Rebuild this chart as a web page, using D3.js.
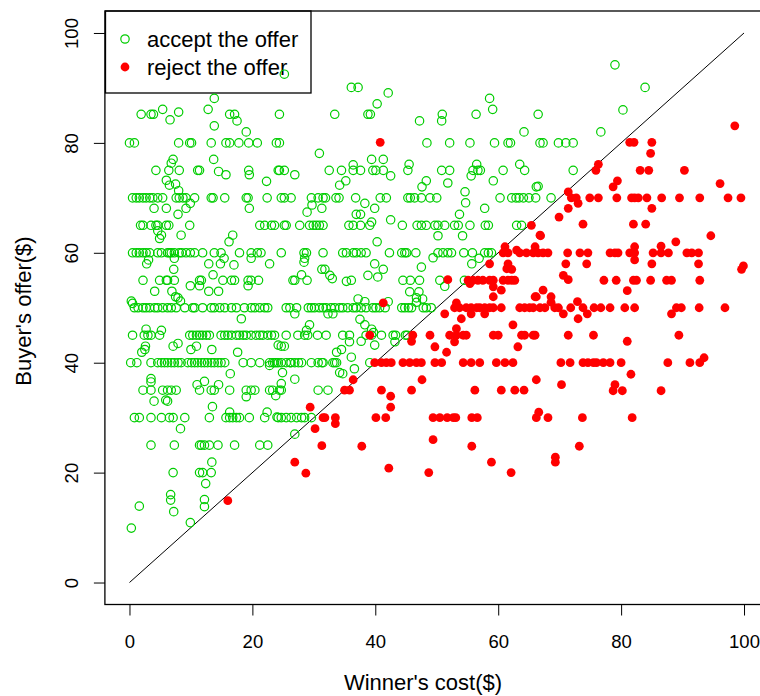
<!DOCTYPE html>
<html>
<head>
<meta charset="utf-8">
<script src="https://cdn.jsdelivr.net/npm/d3@7"></script>
<style>
  html, body { margin: 0; padding: 0; background: #fff; }
  svg { display: block; font-family: "Liberation Sans", Arial, Helvetica, sans-serif; }
</style>
</head>
<body>
<svg id="chart" width="760" height="696"></svg>
<script>
// Offers that were accepted: [winner's cost, buyer's offer]
const accepted = [
  [79,94.2],[83.9,90.1],[25.2,92.5],[36.1,90.1],[37.2,90.1],[13.8,88.1],[42.1,89.1],[40.3,87.1],[58.6,88.1],[59.1,86.1],[80.3,86],[76.7,82],[64.2,82],
  [1.9,85.2],[3.5,85.2],[3.9,85.2],[5.4,86.1],[6.6,84.2],[8.0,85.6],[12.8,86.1],[13.8,83.1],[16.3,85.2],[17.1,85.2],[17.5,84.0],[19.0,82.0],[24.4,85.2],
  [33.4,85.2],[38.8,85.2],[39.2,85.2],[47.2,84],[50.9,85.2],[50.8,84],[56.4,85.2],[66.5,85.2],
  [0,80],[0.8,80],[8.0,80],[9.8,80],[10.1,80],[13.3,80],[15.7,80],[16.3,80],[17.8,80],[19.4,80],[20.8,80],[23.9,80],[24.4,80],[48.4,80],[52.1,80],[55.4,80],[59.4,80],[61.6,80],[62.0,80],[66.8,80],[67.3,80],[69.8,80],[71.0,80],[72.2,80],
  [30.9,78.1],[7.1,77],[6.8,76.3],[13.7,77],[39.4,77],[41.3,77],[45.5,76.1],[56.5,76.1],[63.5,76.1],[36.4,76],
  [4.3,75],[6.4,75],[8.1,75],[11.1,75],[11.4,75],[14.5,74.8],[15.7,74.2],[19.4,75],[19.5,74.2],[24.2,75],[24.4,75],[25.2,75],[26.9,74.2],[32.5,75],[34.5,75],[36.4,75],[37.6,75],[39.6,75],[40.1,75],[41.3,75],[45.3,75],[50.8,75],[52.1,75],[55.9,75],[56.7,75],[57.1,75],[60.8,75],[64.3,75],[72.2,75],[42.5,74],[55.6,74],
  [6.0,73.2],[6.5,72.3],[7.5,72.5],[8.0,71.3],[22.3,73],[35.2,73.1],[34.2,72.3],[48.3,73.1],[47.6,72],[51.8,72.7],[59.2,73.1],[66.2,72],[66.5,72.1],[54.6,71.1],
  [0.5,70],[1.1,70],[1.6,70],[2.2,70],[2.7,70],[3.3,70],[3.8,70],[4.6,70],[5.4,70],[7.6,70],[8.1,70],[8.7,70],[9.2,70],[10.6,70],[13.3,70],[13.6,70],[15.5,70],[19.0,70],[19.3,70],[22.4,70],[24.7,70],[25.2,70],[26.3,70],[29.6,70],[30.7,70],[31.5,70],[31.9,70],[33.6,70],[34.1,70],[36.8,70],[40.8,70],[41.8,70],[45.3,70],[45.7,70],[46.4,70],[47.5,70],[48.9,70],[50.0,70],[60.3,70],[62.2,70],[62.9,70],[63.4,70],[64.1,70],[65.0,70],[66.1,70],[68.6,70],
  [4.0,68.1],[6.0,68.1],[7.9,67],[9.2,68.1],[9.9,69],[19.5,68.1],[31.3,68.1],[38.3,69],[39.9,68.1],[36.9,67],[37.6,67],[54.7,69.1],[57.8,68.1],[53.7,67],[42.5,66],[39.4,65.6],[28.9,67.4],[29.7,68.7],
  [1.8,65],[2.2,65],[3.5,65],[4.3,65],[4.6,65],[6.0,65],[6.4,65],[9.8,65],[21.2,65],[22.0,65],[23.1,65],[23.6,65],[25.2,65],[25.5,65],[27.7,65],[29.3,65],[29.9,65],[30.4,65],[30.9,65],[31.5,65],[35.7,65],[36.4,65],[37.6,65],[39.1,65],[44.4,65],[46.8,65],[47.5,65],[48.3,65],[49.7,65],[50.2,65],[51.3,65],[52.9,65],[53.5,65],[55.4,65],[57.9,65],[58.4,65],[63.0,65],[63.8,65],
  [4.6,64],[5.2,63.2],[4.9,62.6],[8.4,63.2],[16.8,63.2],[16.2,62],[50.2,63.1],[54.2,63.1],[40.3,62],
  [0.5,60],[1.1,60],[1.6,60],[2.2,60],[2.7,60],[3.3,60],[4.6,60],[5.2,60],[6.2,60],[6.5,60],[6.8,60],[7.3,60],[8.1,60],[8.5,60],[9.2,60],[9.9,60],[10.6,60],[11.9,60],[13.8,60],[14.9,60],[17.9,60],[19.8,60],[20.8,60],[21.4,60],[24.7,60],[28.4,60],[28.8,60],[31.5,60],[34.7,60],[35.3,60],[36.4,60],[36.9,60],[37.7,60],[38.5,60],[42.3,60],[44.3,60],[44.8,60],[45.1,60],[46.6,60],[50.2,60],[51.0,60],[51.8,60],[52.4,60],[54.4,60],[55.8,60],[57.8,60],[58.4,60],[58.9,60],
  [3.1,58.7],[2.8,58],[7.3,59],[12.9,58],[14.8,58],[15.4,59],[17.0,57.8],[19.8,59],[22.8,58],[28.5,59],[28.4,58.3],[7.2,57],[13.6,56],[31.3,57],[39.9,58],[49.4,59.1],[47.5,57.4],[55.7,58],[56.9,59],[31.8,57],[32.6,55.9],[33.0,55.3],[41.3,57],[40.4,55.6],[38.8,55.9],[35.3,54.8],[36.1,55],[28,56],
  [2.2,55],[4.9,55],[6.0,55],[6.2,55],[7.3,55],[11.4,55],[11.7,55],[15.2,55],[16.6,55],[17.1,55],[19.3,55],[19.8,55],[21.0,55],[26.6,55],[26.9,55],[28.9,55],[44.5,55],[45.7,55],[47.2,55],[50.5,55],[54.5,55],
  [51.3,53.9],[45.6,52.9],[47.1,52.9],[46.7,51.8],[47.7,51.6],[37.2,51.6],[4.1,53],[9.9,54],[11.4,54],[12.9,53],[14.5,53],[19.3,54],[6.9,53],[7.5,52],[7.9,51.8],[8.3,51.2],[0.3,51.2],[0.5,50.8],
  [0.8,50],[1.4,50],[2.2,50],[2.7,50],[3.3,50],[4.1,50],[4.6,50],[5.4,50],[6.2,50],[6.8,50],[7.6,50],[9.0,50],[10.3,50],[10.6,50],[11.9,50],[13.3,50],[13.8,50],[14.7,50],[15.5,50],[16.6,50],[17.4,50],[18.7,50],[19.8,50],[20.4,50],[21.2,50],[22.0,50],[22.5,50],[25.5,50],[26.1,50],[27.2,50],[29.1,50],[29.6,50],[30.1,50],[30.9,50],[31.5,50],[32.0,50],[32.8,50],[33.4,50],[34.2,50],[34.7,50],[35.5,50],[36.4,50],[36.9,50],[37.7,50],[38.5,50],[39.6,50],[40.1,50],[40.7,50],[44.3,50],[44.8,50],[45.4,50],[45.9,50],[47.8,50],[48.3,50],[49.1,50],
  [32.3,48.9],[33.1,48.9],[38.3,51.1],[42.1,51.1],[46.7,51],[41.6,50],[37.5,47.9],[38.3,46.9],[39.4,46.1],[39.7,45.5],
  [18.2,48],[26.9,48.9],[29.3,46.9],[28.8,45.9],[28.5,45],[24.2,43.2],[2.7,46.1],[5.2,45.9],[4.9,45],
  [0.5,45],[2.4,45],[3.0,45],[3.5,45],[9.8,45],[10.3,45],[10.9,45],[11.4,45],[11.9,45],[12.5,45],[13.0,45],[14.9,45],[15.5,45],[16.0,45],[16.6,45],[17.4,45],[17.9,45],[18.5,45],[19.0,45],[19.8,45],[20.6,45],[21.2,45],[21.7,45],[22.5,45],[23.1,45],[23.6,45],[25.5,45],[27.4,45],[29.0,45],[30.6,45],[32.0,45],[34.7,45],[35.8,45],[38.5,45],[39.4,45],[41.0,45],[42.9,45],[43.3,45],[44.9,45],[45.2,45],
  [35.8,43.8],[37.7,43.9],[39.9,43.2],[43.2,43.8],[33.7,41.9],[34.5,42.4],[36.1,41],
  [7.1,43],[7.9,43.5],[2.6,43],[2.0,41.9],[2.5,42.4],[10.0,42.4],[10.9,43],[13.4,42.4],[17.6,41.9],[24.7,43],[25.2,43],
  [0.2,40],[1.2,40],[3.5,40],[4.6,40],[5.2,40],[5.7,40],[6.2,40],[6.8,40],[7.3,40],[7.9,40],[8.4,40],[9.5,40],[10.1,40],[10.6,40],[11.1,40],[11.7,40],[12.2,40],[12.7,40],[13.3,40],[13.8,40],[14.4,40],[14.9,40],[15.5,40],[18.5,40],[19.8,40],[21.2,40],[22.8,40],[23.3,40],[23.6,40],[23.9,40],[24.2,40],[24.7,40],[25.5,40],[26.1,40],[26.3,40],[26.9,40],[27.5,40],[28.0,40],[29.6,40],[30.7,40],[31.3,40],[31.5,40],[33.1,40],[33.4,40],[33.7,40],[39.1,40],
  [22.8,39.5],[16.4,38],[24.9,38.2],[26.9,37],[24.7,36.2],[3.5,37.1],[3.5,36.5],[34.2,38.2],[34.7,38],[36.6,38.9],
  [2.2,35],[3.5,35],[5.4,35],[6.2,35],[6.8,35],[7.6,35],[11.4,35],[13.3,35],[13.8,35],[16.3,35],[19.0,35],[19.8,35],[20.4,35],[22.8,35],[23.3,35],[24.4,35],[24.7,35],[30.7,35],[32.3,35],
  [11.0,36],[12.2,36.6],[14.5,36],[4.0,33],[5.9,33.2],[6.2,33],[19.0,33.8],[23.8,34],[13.5,32],[16.3,31],[22.4,31],[24.0,30.1],
  [0.8,30],[1.6,30],[3.5,30],[5.2,30],[6.5,30],[7.1,30],[9.0,30],[13.0,30],[15.7,30],[16.3,30],[16.8,30],[17.4,30],[17.9,30],[19.5,30],[22.0,30],[24.2,30],[24.7,30],[25.5,30],[26.3,30],[27.2,30],[28.0,30],[28.5,30],[29.6,30],
  [8.3,28],[26.9,27],
  [3.5,25],[7.3,25],[11.4,25],[11.7,25],[12.2,25],[13.0,25],[14.4,25],[17.1,25],[21.2,25],[22.5,25],
  [13.4,21.9],[7.1,20],[11.4,20],[11.9,20],[13.3,20],[12.4,18],[6.7,16],[6.7,15],[12.2,15.1],[12.2,13.8],[1.6,13.9],[7.2,12.9],[9.9,10.9],[0.3,9.9]
];

// Offers that were rejected: [winner's cost, buyer's offer]
const rejected = [
  [98.5,83.1],[40.8,80.1],[81.4,80.1],[82.1,80.1],[85.0,80.1],[84.8,78.1],[76.3,76.1],[75.9,75],[83.1,75],[84.5,75],[90.3,75],[79.4,73.1],[78.7,72],[96.1,72.6],[71.4,71.1],
  [71.9,70],[72.7,70],[73.0,69],[74.9,70],[76.3,70],[79.3,70],[81.7,70],[82.2,70],[82.8,70],[84.2,70],[86.6,70],[89.5,70],[92.8,70],[97.4,70],[99.5,70],
  [71.4,68.1],[69.9,66.5],[85.0,68.1],[73.8,65.2],[82,65.2],[84,65.2],[65.4,65],[66.9,63.1],[94.6,63.1],[88.9,62],[82.2,61.1],[86.5,61.2],[61.1,61.1],[63,60.5],[66,61.1],[66.8,63.2],
  [60.8,60],[61.6,60],[63.5,60],[64.6,60],[65.7,60],[66.5,60],[67.3,60],[68.1,60],[71.3,60],[73.3,60],[74.6,60],[78.2,60],[79.0,60],[79.5,60],[81.4,60],[82.2,60],[85.2,60],[86.5,60],[87.7,60],[90.7,60],[91.5,60],[92.6,60],
  [58.6,58],[61.6,58],[62.2,57],[61.4,57.1],[71.0,58],[74.4,58],[82.2,58.7],[85.0,58],[92.6,58],[99.9,57.6],[99.6,57],[70.6,55.9],[71.4,55.1],
  [51.8,55.1],[55.1,55],[55.9,55],[56.7,55],[57.5,55],[58.6,55],[59.2,55],[60.8,55],[61.6,55],[62.2,55],[62.7,55],[77.2,55],[79.2,55],[82.0,55],[82.5,55],[84.8,55],[87.4,55],[88.2,55],[92.8,55],
  [55.4,54.4],[59.2,53.8],[59.2,52],[60.5,53.2],[66.0,52],[81.0,53.1],[67.3,53.2],[66.2,52],[68.6,52],[68.6,51],[72.9,51.1],[53.2,50.9],[41.3,50.9],
  [52.9,50],[53.7,50],[54.8,50],[55.6,50],[56.5,50],[57.0,50],[57.8,50],[58.6,50],[59.2,50],[60.5,50],[63.5,50],[64.3,50],[65.1,50],[65.7,50],[66.8,50],[67.6,50],[69.2,50],[69.8,50],[71.8,50],[73.8,50],[75.6,50],[76.7,50],[78.2,50],[80.6,50],[82.2,50],[89.0,50],[89.8,50],[92.7,50],[96.9,50],
  [51.3,48.9],[54.0,48],[55.6,48.9],[57.8,48.9],[70.6,48.9],[73.0,48],[74.5,48.9],[88.2,48.9],[62.4,46.9],[53.2,46.2],
  [39.1,45],[46.1,45],[48.9,45],[52.1,45],[53.2,45],[54.3,45],[54.8,45],[59.2,45],[60.0,45],[63.8,45],[64.3,45],[65.7,45],[66,45],[71.4,45],[75.5,45],[89.4,45],
  [45.9,43.9],[49.7,42.9],[51.6,41.9],[52.9,43.8],[63.2,42.9],[81.0,43.9],[93.5,40.9],
  [39.9,40],[41.0,40],[41.8,40],[42.6,40],[44.5,40],[45.6,40],[46.7,40],[47.5,40],[49.7,40],[50.8,40],[54.3,40],[55.6,40],[57.0,40],[59.7,40],[61.1,40],[62.4,40],[70.2,40],[71.7,40],[73.8,40],[74.6,40],[75.5,40],[76.0,40],[77.1,40],[78.2,40],[80.0,40],[87.6,40],[91.2,40],[92.8,40],
  [36.4,36.9],[47.6,36.9],[66.2,36.9],[81.6,37.9],[70.3,36],[79,36],
  [35.0,35],[35.8,35],[41.0,35],[45.9,35],[56.2,35],[60.5,35],[62.7,35],[64.2,35],[78.7,34.9],[80.2,34.9],[86.5,34.9],
  [42.5,33.9],[42.5,31.9],[66.6,31],[29.4,31.9],
  [31.5,30],[31.8,30],[33.5,30],[40.1,30],[41.7,30],[49.4,30],[50.5,30],[51.7,30],[52.7,30],[53.1,30],[55.7,30],[56.6,30],[66.2,30],[68.1,30],[73.7,30],[81.8,30],
  [33.5,28.9],[30.2,28],[49.4,26],[31.3,24.9],[37.8,24.8],[55.7,24.8],[73.2,24.8],[42.2,20.8],[48.7,20],[58.9,21.9],[62.1,20],[69.3,22.8],[69.3,21.9],[26.9,21.9],[28.7,19.9],[16.0,14.9]
];

const xTicks = [0, 20, 40, 60, 80, 100];
const yTicks = [0, 20, 40, 60, 80, 100];
const legendItems = ["accept the offer", "reject the offer"];
const xTitle = "Winner's cost($)";
const yTitle = "Buyer's offer($)";

const GREEN = "#00CD00";
const RED = "#FF0000";

const svg = d3.select("#chart");

// Plot region (data range padded by 4% on each side)
const x = d3.scaleLinear().domain([-4, 104]).range([104.9, 768.6]);
const y = d3.scaleLinear().domain([-4, 104]).range([604.5, 11]);

// Frame around the plot region
svg.append("rect")
  .attr("x", x(-4)).attr("y", y(104))
  .attr("width", x(104) - x(-4)).attr("height", y(-4) - y(104))
  .attr("fill", "none").attr("stroke", "#000").attr("stroke-width", 1.3);

// Bottom axis
const gx = svg.append("g")
  .attr("transform", `translate(0,${y(-4)})`)
  .call(d3.axisBottom(x).tickValues(xTicks).tickSizeOuter(0).tickSize(11));
gx.select(".domain").remove();
gx.selectAll(".tick line").attr("stroke", "#000").attr("stroke-width", 1);
gx.selectAll(".tick text")
  .attr("y", 43).attr("dy", 0)
  .attr("font-size", 18.5).attr("font-family", "Liberation Sans, Arial, sans-serif")
  .attr("fill", "#000");

// Left axis with rotated labels
const gy = svg.append("g")
  .attr("transform", `translate(${x(-4)},0)`)
  .call(d3.axisLeft(y).tickValues(yTicks).tickSizeOuter(0).tickSize(11));
gy.select(".domain").remove();
gy.selectAll(".tick line").attr("stroke", "#000").attr("stroke-width", 1);
gy.selectAll(".tick text")
  .attr("x", 0).attr("dy", 0)
  .attr("transform", "translate(-27,0) rotate(-90)")
  .attr("text-anchor", "middle")
  .attr("font-size", 18.5).attr("font-family", "Liberation Sans, Arial, sans-serif")
  .attr("fill", "#000");

// Axis titles
svg.append("text")
  .attr("x", 423).attr("y", 690)
  .attr("text-anchor", "middle").attr("font-size", 22).attr("fill", "#000")
  .text(xTitle);
svg.append("text")
  .attr("transform", "translate(31,311) rotate(-90)")
  .attr("text-anchor", "middle").attr("font-size", 22).attr("fill", "#000")
  .text(yTitle);

// Legend box
const legend = svg.append("g");
legend.append("rect")
  .attr("x", 105.5).attr("y", 11).attr("width", 205.5).attr("height", 82)
  .attr("fill", "none").attr("stroke", "#000").attr("stroke-width", 1.3);
legend.append("circle")
  .attr("cx", 125).attr("cy", 39).attr("r", 4.2)
  .attr("fill", "none").attr("stroke", GREEN).attr("stroke-width", 1.2);
legend.append("circle")
  .attr("cx", 125).attr("cy", 67).attr("r", 4.4)
  .attr("fill", RED);
legend.selectAll("text.item")
  .data(legendItems)
  .join("text")
  .attr("class", "item")
  .attr("x", 147).attr("y", (d, i) => 46.5 + i * 28)
  .attr("font-size", 22).attr("fill", "#000")
  .text(d => d);

// Break-even diagonal: offer equals cost
svg.append("line")
  .attr("x1", x(0)).attr("y1", y(0)).attr("x2", x(100)).attr("y2", y(100))
  .attr("stroke", "#000").attr("stroke-width", 1);

// Accepted offers: open green circles
svg.append("g").selectAll("circle")
  .data(accepted)
  .join("circle")
  .attr("cx", d => x(d[0])).attr("cy", d => y(d[1])).attr("r", 4.2)
  .attr("fill", "none").attr("stroke", GREEN).attr("stroke-width", 1.2);

// Rejected offers: filled red dots
svg.append("g").selectAll("circle")
  .data(rejected)
  .join("circle")
  .attr("cx", d => x(d[0])).attr("cy", d => y(d[1])).attr("r", 4.4)
  .attr("fill", RED);
</script>
</body>
</html>
